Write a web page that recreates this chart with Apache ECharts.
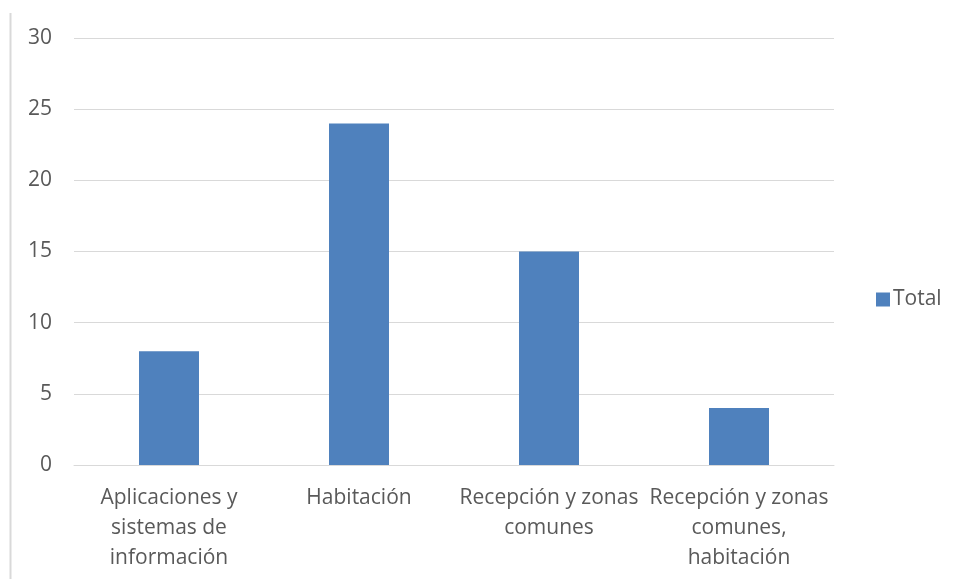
<!DOCTYPE html>
<html>
<head>
<meta charset="utf-8">
<script src="https://cdn.jsdelivr.net/npm/echarts@6/dist/echarts.min.js"></script>
<style>
  html, body { margin: 0; padding: 0; background: #fff; }
  #chart { width: 957px; height: 579px; }
</style>
</head>
<body>
<div id="chart"></div>
<script>
// Categories and counts per area
const categories = [
  'Aplicaciones y\nsistemas de\ninformación',
  'Habitación',
  'Recepción y zonas\ncomunes',
  'Recepción y zonas\ncomunes,\nhabitación'
];
const totals = [8, 24, 15, 4];
const seriesName = 'Total';

const chart = echarts.init(document.getElementById('chart'), null, { renderer: 'canvas' });
const textColor = '#595959';
const fontFamily = '"Open Sans", "Noto Sans", sans-serif';

chart.setOption({
  animation: false,
  backgroundColor: '#ffffff',
  textStyle: { fontFamily: fontFamily },
  grid: { left: 74, right: 123, top: 38, bottom: 114 },
  legend: {
    data: [seriesName],
    orient: 'vertical',
    left: 871,
    top: 284,
    itemWidth: 14,
    itemHeight: 14,
    itemGap: 4,
    icon: 'rect',
    textStyle: { color: textColor, fontSize: 21, fontFamily: fontFamily, padding: [0, 0, 0, -2] }
  },
  xAxis: {
    type: 'category',
    data: categories,
    axisLine: { show: true, lineStyle: { color: '#d9d9d9', width: 1 } },
    axisTick: { show: false },
    axisLabel: {
      color: textColor,
      fontSize: 21,
      fontFamily: fontFamily,
      lineHeight: 30,
      margin: 18,
      interval: 0
    }
  },
  yAxis: {
    type: 'value',
    min: 0,
    max: 30,
    interval: 5,
    axisLine: { show: false },
    axisTick: { show: false },
    splitLine: { lineStyle: { color: '#d9d9d9', width: 1 } },
    axisLabel: { color: textColor, fontSize: 21, fontFamily: fontFamily, margin: 22 }
  },
  series: [{
    name: seriesName,
    type: 'bar',
    data: totals,
    barWidth: 60,
    itemStyle: { color: '#4f81bd' }
  }],
  graphic: [{
    type: 'line',
    shape: { x1: 10.5, y1: 13, x2: 10.5, y2: 579 },
    style: { stroke: '#d9d9d9', lineWidth: 2 },
    silent: true
  }]
});
</script>
</body>
</html>
